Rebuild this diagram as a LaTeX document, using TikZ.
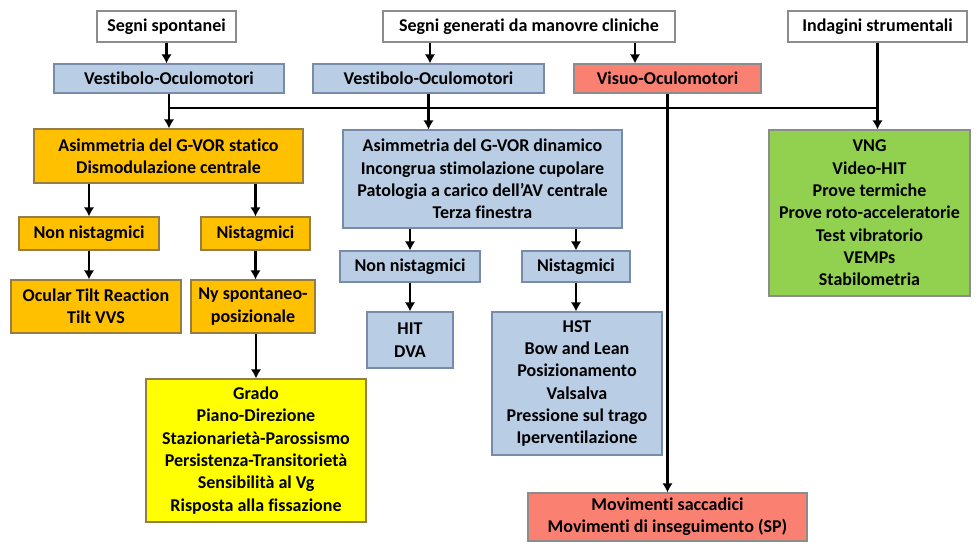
\documentclass[tikz,border=0pt]{standalone}
\usepackage{fontspec}
\setmainfont{Carlito}[RawFeature=-liga]
\usepackage{tikz}
\usetikzlibrary{arrows.meta}
\usetikzlibrary{positioning}
\usetikzlibrary{calc}
\definecolor{vobl}{RGB}{185,205,229}
\definecolor{voed}{RGB}{120,140,170}
\definecolor{orng}{RGB}{255,192,0}
\definecolor{orged}{RGB}{150,125,70}
\definecolor{yelw}{RGB}{255,255,0}
\definecolor{gren}{RGB}{146,208,80}
\definecolor{salm}{RGB}{250,128,114}
\definecolor{edgr}{RGB}{140,140,140}
\tikzset{
  % arrow tip for all connectors
  >={Latex[length=6.5pt,width=7.5pt]},
  % common styles for the boxes
  line/.style={draw, ->, line width=1.7pt},
  bus/.style={draw, line width=1.7pt},
  sz/.style 2 args={minimum width=#1*0.025cm, minimum height=#2*0.025cm},
  box/.style={draw=edgr, line width=0.8pt, rectangle, inner sep=0pt, align=center,
    font=\fontsize{12.8}{15.9}\selectfont\bfseries},
  head/.style={box, fill=white},
  vest/.style={box, draw=voed, fill=vobl},
  stat/.style={box, draw=orged, fill=orng},
  grado/.style={box, draw=orged, fill=yelw},
  strum/.style={box, fill=gren},
  visuo/.style={box, fill=salm}
}

\begin{document}
\begin{tikzpicture}[x=0.025cm, y=-0.025cm]
        \useasboundingbox (0,0) rectangle (976,542);
        % Define nodes
        \node[head, sz={139}{31}] (spont) at (166.5,26.5) {Segni spontanei};
        \node[head, sz={292}{31}] (manov) at (529,26.5) {Segni generati da manovre cliniche};
        \node[head, sz={179}{31}] (indag) at (877.5,26.5) {Indagini strumentali};

        \node[vest, sz={230}{29}] (vest1) at (169,78.5) {Vestibolo-Oculomotori};
        \node[vest, sz={231}{29}] (vest2) at (428.5,78.5) {Vestibolo-Oculomotori};
        \node[visuo, sz={187}{29}] (visuo) at (667.5,78.5) {Visuo-Oculomotori};

        \node[stat, sz={269}{54}] (statico) at (168.5,156) {Asimmetria del G-VOR statico\\Dismodulazione centrale};
        \node[vest, sz={279}{98}] (dinam) at (482.5,179) {Asimmetria del G-VOR dinamico\\Incongrua stimolazione cupolare\\Patologia a carico dell’AV centrale\\Terza finestra};
        \node[strum, sz={201}{166}] (vng) at (869.5,213) {VNG\\Video-HIT\\Prove termiche\\Prove roto-acceleratorie\\Test vibratorio\\VEMPs\\Stabilometria};

        \node[stat, sz={140}{33}] (nonny1) at (89,233.5) {Non nistagmici};
        \node[stat, sz={109}{33}] (ny1) at (255.5,233.5) {Nistagmici};
        \node[stat, sz={170}{53}] (otr) at (96,306.5) {Ocular Tilt Reaction\\Tilt VVS};
        \node[stat, sz={124}{53}] (nyspont) at (253,306.5) {Ny spontaneo-\\posizionale};
        \node[grado, sz={220}{143}] (grado) at (256,450.5) {Grado\\Piano-Direzione\\Stazionarietà-Parossismo\\Persistenza-Transitorietà\\Sensibilità al Vg\\Risposta alla fissazione};

        \node[vest, sz={140}{31}] (nonny2) at (410,266.5) {Non nistagmici};
        \node[vest, sz={108}{31}] (ny2) at (576,266.5) {Nistagmici};
        \node[vest, sz={86}{56}] (hit) at (410,340) {HIT\\DVA};
        \node[vest, sz={170}{143}] (hst) at (577,383.5) {HST\\Bow and Lean\\Posizionamento\\Valsalva\\Pressione sul trago\\Iperventilazione};

        \node[visuo, sz={279}{48}] (movim) at (667.5,517) {Movimenti saccadici\\Movimenti di inseguimento (SP)};

        \coordinate (hbus) at (0,108);

        % Define connections
        \path [line] (spont.south) -- (spont.south |- vest1.north);
        \path [line] ([xshift=-99*0.025cm]manov.south) -- ([xshift=-99*0.025cm]manov.south |- vest2.north);
        \path [line] ([xshift=106*0.025cm]manov.south) -- ([xshift=106*0.025cm]manov.south |- visuo.north);
        \path [bus] (vest1.south |- hbus) -- (indag.south |- hbus);
        \path [line] (vest1.south) -- (vest1.south |- statico.north);
        \path [line] (vest2.south) -- (vest2.south |- dinam.north);
        \path [line] (visuo.south) -- (visuo.south |- movim.north);
        \path [line] (indag.south) -- (indag.south |- vng.north);

        \path [line] (nonny1.north |- statico.south) -- (nonny1.north);
        \path [line] (ny1.north |- statico.south) -- (ny1.north);
        \path [line] (nonny1.south) -- (nonny1.south |- otr.north);
        \path [line] (ny1.south) -- (ny1.south |- nyspont.north);
        \path [line] (grado.north |- nyspont.south) -- (grado.north);

        \path [line] (nonny2.north |- dinam.south) -- (nonny2.north);
        \path [line] (ny2.north |- dinam.south) -- (ny2.north);
        \path [line] (nonny2.south) -- (hit.north);
        \path [line] (ny2.south) -- (ny2.south |- hst.north);
    \end{tikzpicture}
\end{document}
